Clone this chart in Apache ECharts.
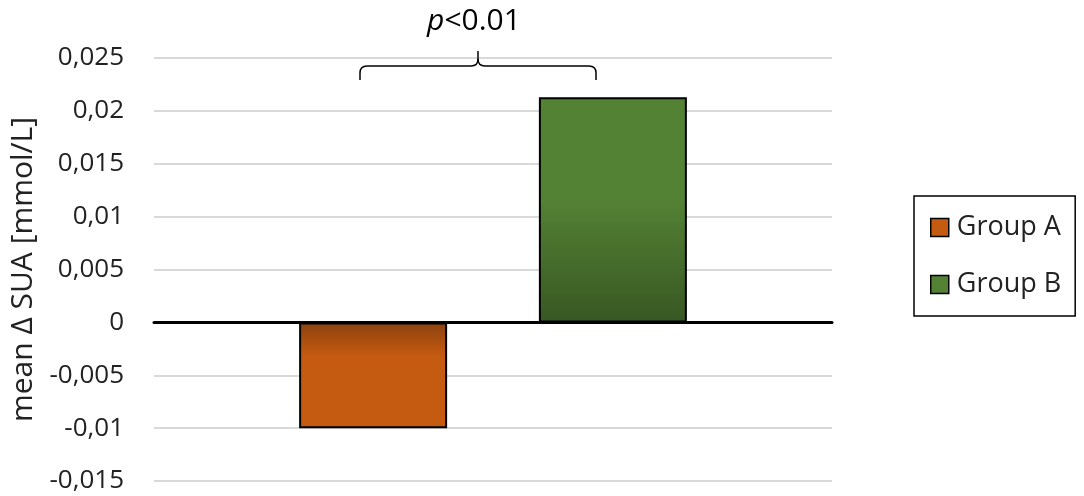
<!DOCTYPE html>
<html>
<head>
<meta charset="utf-8">
<script src="https://cdn.jsdelivr.net/npm/echarts@6/dist/echarts.min.js"></script>
<style>html,body{margin:0;padding:0;background:#fff}#c{width:1084px;height:496px}</style>
</head>
<body>
<div id="c"></div>
<script>
const categories = ['mean'];
const seriesNames = ['Group A', 'Group B'];
const groupA = [-0.01];
const groupB = [0.0213];
const yTicks = { min: -0.015, max: 0.025, interval: 0.005 };
const annotationText = 'p<0.01';

const FONT = '"Open Sans"';
const chart = echarts.init(document.getElementById('c'), null, { renderer: 'canvas' });

const gradA = new echarts.graphic.LinearGradient(0, 0, 0, 1, [
  { offset: 0, color: '#8c4210' },
  { offset: 0.32, color: '#c55a11' },
  { offset: 1, color: '#c55a11' }
]);
const gradB = new echarts.graphic.LinearGradient(0, 0, 0, 1, [
  { offset: 0, color: '#548235' },
  { offset: 0.45, color: '#548235' },
  { offset: 1, color: '#385723' }
]);

function fmt(v) {
  let s = (Math.round(v * 100000) / 100000).toString();
  return s.replace('.', ',');
}

chart.setOption({
  animation: false,
  textStyle: { fontFamily: FONT },
  grid: { left: 149, right: 252, top: 58, bottom: 15 },
  xAxis: {
    type: 'category',
    data: categories,
    axisLine: { onZero: true, lineStyle: { color: '#000', width: 3 } },
    axisTick: { show: false },
    axisLabel: { show: false }
  },
  yAxis: {
    type: 'value',
    min: yTicks.min, max: yTicks.max, interval: yTicks.interval,
    name: 'mean Δ SUA [mmol/L]',
    nameLocation: 'middle',
    nameGap: 116,
    nameTextStyle: { fontSize: 30, color: '#222', fontFamily: FONT },
    axisLine: { show: false },
    axisTick: { show: false },
    axisLabel: { fontSize: 26, color: '#222', margin: 30, formatter: fmt, fontFamily: FONT },
    splitLine: { lineStyle: { color: '#d9d9d9', width: 2 } }
  },
  legend: {
    orient: 'vertical',
    left: 914, top: 196,
    padding: [18, 14, 18, 16],
    borderColor: '#000', borderWidth: 1.5,
    itemWidth: 18, itemHeight: 18, itemGap: 30,
    textStyle: { fontSize: 27, color: '#222', fontFamily: FONT, padding: [0, 0, 0, 3] },
    data: [
      { name: seriesNames[0], icon: 'rect', itemStyle: { color: '#c55a11', borderColor: '#000', borderWidth: 1.5 } },
      { name: seriesNames[1], icon: 'rect', itemStyle: { color: '#548235', borderColor: '#000', borderWidth: 1.5 } }
    ]
  },
  series: [
    { name: seriesNames[0], type: 'bar', data: groupA, barWidth: 148, barGap: '62%',
      itemStyle: { color: gradA, borderColor: '#000', borderWidth: 2 } },
    { name: seriesNames[1], type: 'bar', data: groupB, barWidth: 148,
      itemStyle: { color: gradB, borderColor: '#000', borderWidth: 2 } }
  ]
});

// Bracket annotation (curly brace) and p-value text
const cx = 478;
const x1 = 360, x2 = 596, yb = 80, yh = 66, yt = 51;
const r = 7;
const ls = { stroke: '#000', lineWidth: 1.5, fill: null };
chart.setOption({
  graphic: [
    { type: 'polyline', shape: { points: [[x1, yb], [x1, yh + r]] }, style: ls },
    { type: 'bezierCurve', shape: { x1: x1, y1: yh + r, cpx1: x1, cpy1: yh, x2: x1 + r, y2: yh }, style: ls },
    { type: 'polyline', shape: { points: [[x1 + r, yh], [cx - r, yh]] }, style: ls },
    { type: 'bezierCurve', shape: { x1: cx - r, y1: yh, cpx1: cx, cpy1: yh, x2: cx, y2: yh - r }, style: ls },
    { type: 'bezierCurve', shape: { x1: cx + r, y1: yh, cpx1: cx, cpy1: yh, x2: cx, y2: yh - r }, style: ls },
    { type: 'polyline', shape: { points: [[cx, yh - r], [cx, yt]] }, style: ls },
    { type: 'polyline', shape: { points: [[cx + r, yh], [x2 - r, yh]] }, style: ls },
    { type: 'bezierCurve', shape: { x1: x2 - r, y1: yh, cpx1: x2, cpy1: yh, x2: x2, y2: yh + r }, style: ls },
    { type: 'polyline', shape: { points: [[x2, yh + r], [x2, yb]] }, style: ls },
    { type: 'text', x: 474, y: 21,
      style: { text: '{i|p}{n|<0.01}', align: 'center', verticalAlign: 'middle',
        rich: { i: { fontStyle: 'italic', fontSize: 30, fontFamily: FONT, fill: '#000' },
                n: { fontSize: 30, fontFamily: FONT, fill: '#000' } } } }
  ]
});
</script>
</body>
</html>
